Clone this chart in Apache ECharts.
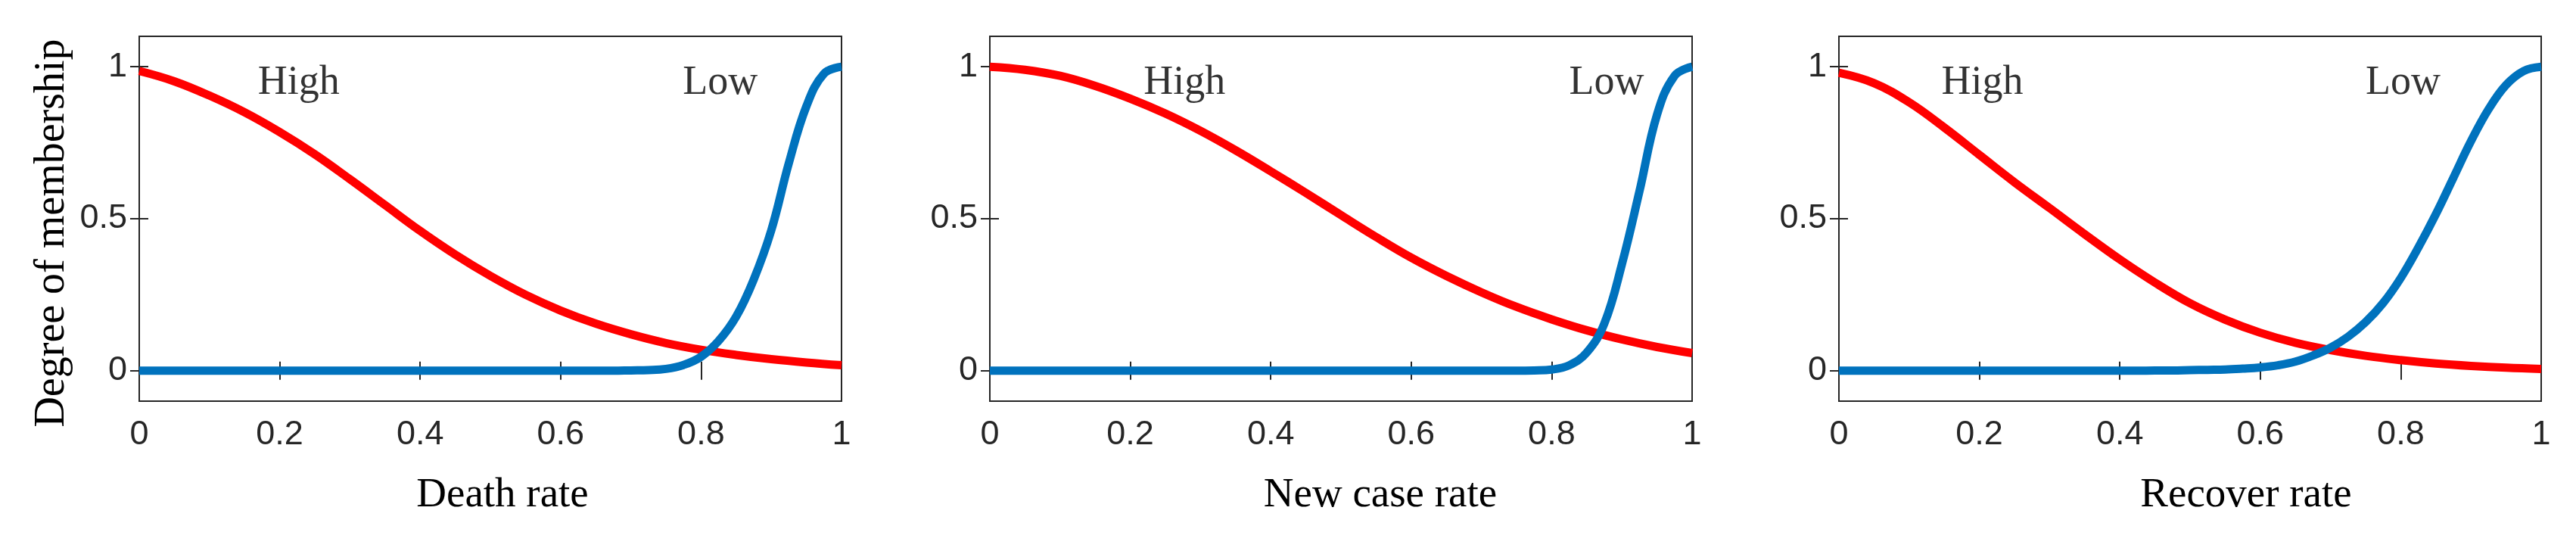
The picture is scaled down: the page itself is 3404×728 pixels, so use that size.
<!DOCTYPE html>
<html>
<head>
<meta charset="utf-8">
<title>Membership functions</title>
<style>
  html, body { margin: 0; padding: 0; background: #fff; }
  #main { width: 3404px; height: 728px; }
</style>
<script src="https://cdn.jsdelivr.net/npm/echarts@6/dist/echarts.min.js"></script>
</head>
<body>
<div id="main"></div>
<script>
var xHigh = [0, 0.05, 0.1, 0.15, 0.2, 0.25, 0.3, 0.35, 0.4, 0.45, 0.5,
             0.55, 0.6, 0.65, 0.7, 0.75, 0.8, 0.85, 0.9, 0.95, 1];
var xLow = [0, 0.025, 0.05, 0.075, 0.1, 0.125, 0.15, 0.175, 0.2, 0.225, 0.25, 0.275, 0.3, 0.325,
            0.35, 0.375, 0.4, 0.425, 0.45, 0.475, 0.5, 0.525, 0.55, 0.575, 0.6, 0.625, 0.65, 0.675,
            0.7, 0.725, 0.75, 0.775, 0.8, 0.825, 0.85, 0.875, 0.9, 0.925, 0.95, 0.975, 1];

// Death rate
var deathHigh = [0.986, 0.952, 0.905, 0.85, 0.785, 0.712, 0.63, 0.545, 0.46, 0.382, 0.312,
                 0.25, 0.198, 0.155, 0.12, 0.091, 0.069, 0.052, 0.038, 0.027, 0.018];
var deathLow = [0, 0, 0, 0, 0, 0, 0, 0, 0, 0, 0, 0, 0, 0,
                0, 0, 0, 0, 0, 0, 0, 0, 0, 0, 0, 0, 0, 0,
                0.001, 0.002, 0.006, 0.019, 0.046, 0.098, 0.178, 0.30, 0.462, 0.683, 0.87, 0.977, 1];

// New case rate
var caseHigh = [1.0, 0.99, 0.97, 0.937, 0.895, 0.846, 0.789, 0.725, 0.656, 0.585, 0.512,
                0.44, 0.372, 0.312, 0.258, 0.21, 0.169, 0.133, 0.103, 0.078, 0.058];
var caseLow = [0, 0, 0, 0, 0, 0, 0, 0, 0, 0, 0, 0, 0, 0,
               0, 0, 0, 0, 0, 0, 0, 0, 0, 0, 0, 0, 0, 0,
               0, 0, 0, 0.001, 0.004, 0.018, 0.06, 0.155, 0.35, 0.59, 0.842, 0.97, 1];

// Recover rate
var recoverHigh = [0.98, 0.946, 0.883, 0.80, 0.71, 0.62, 0.535, 0.449, 0.366, 0.29, 0.222,
                   0.168, 0.125, 0.092, 0.068, 0.049, 0.035, 0.024, 0.016, 0.010, 0.006];
var recoverLow = [0, 0, 0, 0, 0, 0, 0, 0, 0, 0, 0, 0, 0, 0,
                  0, 0, 0, 0, 0.001, 0.001, 0.002, 0.003, 0.004, 0.007, 0.011, 0.018, 0.03, 0.05,
                  0.076, 0.112, 0.16, 0.223, 0.305, 0.405, 0.515, 0.635, 0.755, 0.86, 0.94, 0.986, 1];

var xNames = ['Death rate', 'New case rate', 'Recover rate'];
var yName = 'Degree of membership';
var xTicks = [0, 0.2, 0.4, 0.6, 0.8, 1];
var yTicks = [0, 0.5, 1];
// where the "High" / "Low" words sit, in data units of each panel
var highAt = [[0.169, 0.946], [0.219, 0.946], [0.146, 0.946]];
var lowAt = [[0.774, 0.946], [0.825, 0.946], [0.75, 0.946]];

var highSets = [deathHigh, caseHigh, recoverHigh];
var lowSets = [deathLow, caseLow, recoverLow];

var axisColor = '#262626';
var gridLeft = [184, 1308, 2430];
var namePad = [32, 104, 148];

var chart = echarts.init(document.getElementById('main'));

var grids = [], xAxes = [], yAxes = [], series = [];

function pairs(xv, yv) {
  return xv.map(function (x, j) { return [x, yv[j]]; });
}

for (var i = 0; i < 3; i++) {
  grids.push({
    left: gridLeft[i], top: 48, width: 928, height: 482,
    show: true, borderColor: axisColor, borderWidth: 2, backgroundColor: 'transparent'
  });

  var tick = { show: true, inside: true, length: 12, lineStyle: { color: axisColor, width: 2 } };

  xAxes.push({
    gridIndex: i, type: 'value', position: 'bottom', min: 0, max: 1, interval: 0.2,
    axisLine: { show: false },
    axisTick: Object.assign({ customValues: xTicks }, tick),
    axisLabel: {
      customValues: xTicks, margin: 22, color: axisColor,
      fontFamily: 'Liberation Sans', fontSize: 45
    },
    splitLine: { show: false },
    name: xNames[i], nameLocation: 'middle', nameGap: 97,
    nameTextStyle: {
      fontFamily: 'Liberation Serif', fontSize: 55, color: '#000',
      padding: [0, 0, 0, namePad[i]]
    }
  });
  xAxes.push({
    gridIndex: i, type: 'value', position: 'top', min: 0, max: 1, interval: 0.2,
    axisLine: { show: false },
    axisTick: Object.assign({ customValues: xTicks }, tick),
    axisLabel: { show: false },
    splitLine: { show: false }
  });

  var yLeft = {
    gridIndex: i, type: 'value', position: 'left', min: -0.1, max: 1.1,
    axisLine: { show: false },
    axisTick: Object.assign({ customValues: yTicks }, tick),
    axisLabel: {
      customValues: yTicks, margin: 16, color: axisColor,
      fontFamily: 'Liberation Sans', fontSize: 45
    },
    splitLine: { show: false }
  };
  if (i === 0) {
    yLeft.name = yName;
    yLeft.nameLocation = 'middle';
    yLeft.nameRotate = 90;
    yLeft.nameGap = 87;
    yLeft.nameTextStyle = {
      fontFamily: 'Liberation Serif', fontSize: 56, color: '#000',
      padding: [0, 38, 0, 0]
    };
  }
  yAxes.push(yLeft);
  yAxes.push({
    gridIndex: i, type: 'value', position: 'right', min: -0.1, max: 1.1,
    axisLine: { show: false },
    axisTick: Object.assign({ customValues: yTicks }, tick),
    axisLabel: { show: false },
    splitLine: { show: false }
  });

  series.push({
    type: 'line', xAxisIndex: 2 * i, yAxisIndex: 2 * i,
    data: pairs(xHigh, highSets[i]), showSymbol: false, smooth: 0.4,
    lineStyle: { color: '#FF0000', width: 11 }, itemStyle: { color: '#FF0000' }
  });
  series.push({
    type: 'line', xAxisIndex: 2 * i, yAxisIndex: 2 * i,
    data: pairs(xLow, lowSets[i]), showSymbol: false, smooth: 0.4,
    lineStyle: { color: '#0072BD', width: 11 }, itemStyle: { color: '#0072BD' }
  });
  series.push({
    type: 'scatter', xAxisIndex: 2 * i, yAxisIndex: 2 * i, symbolSize: 0,
    data: [{ name: 'High', value: highAt[i] }, { name: 'Low', value: lowAt[i] }],
    label: {
      show: true, formatter: '{b}', position: 'right', distance: 0,
      fontFamily: 'Liberation Serif', fontSize: 54, color: '#000'
    }
  });
}

var option = {
  backgroundColor: '#fff',
  animation: false,
  grid: grids,
  xAxis: xAxes,
  yAxis: yAxes,
  series: series
};

option && chart.setOption(option);
</script>
</body>
</html>
